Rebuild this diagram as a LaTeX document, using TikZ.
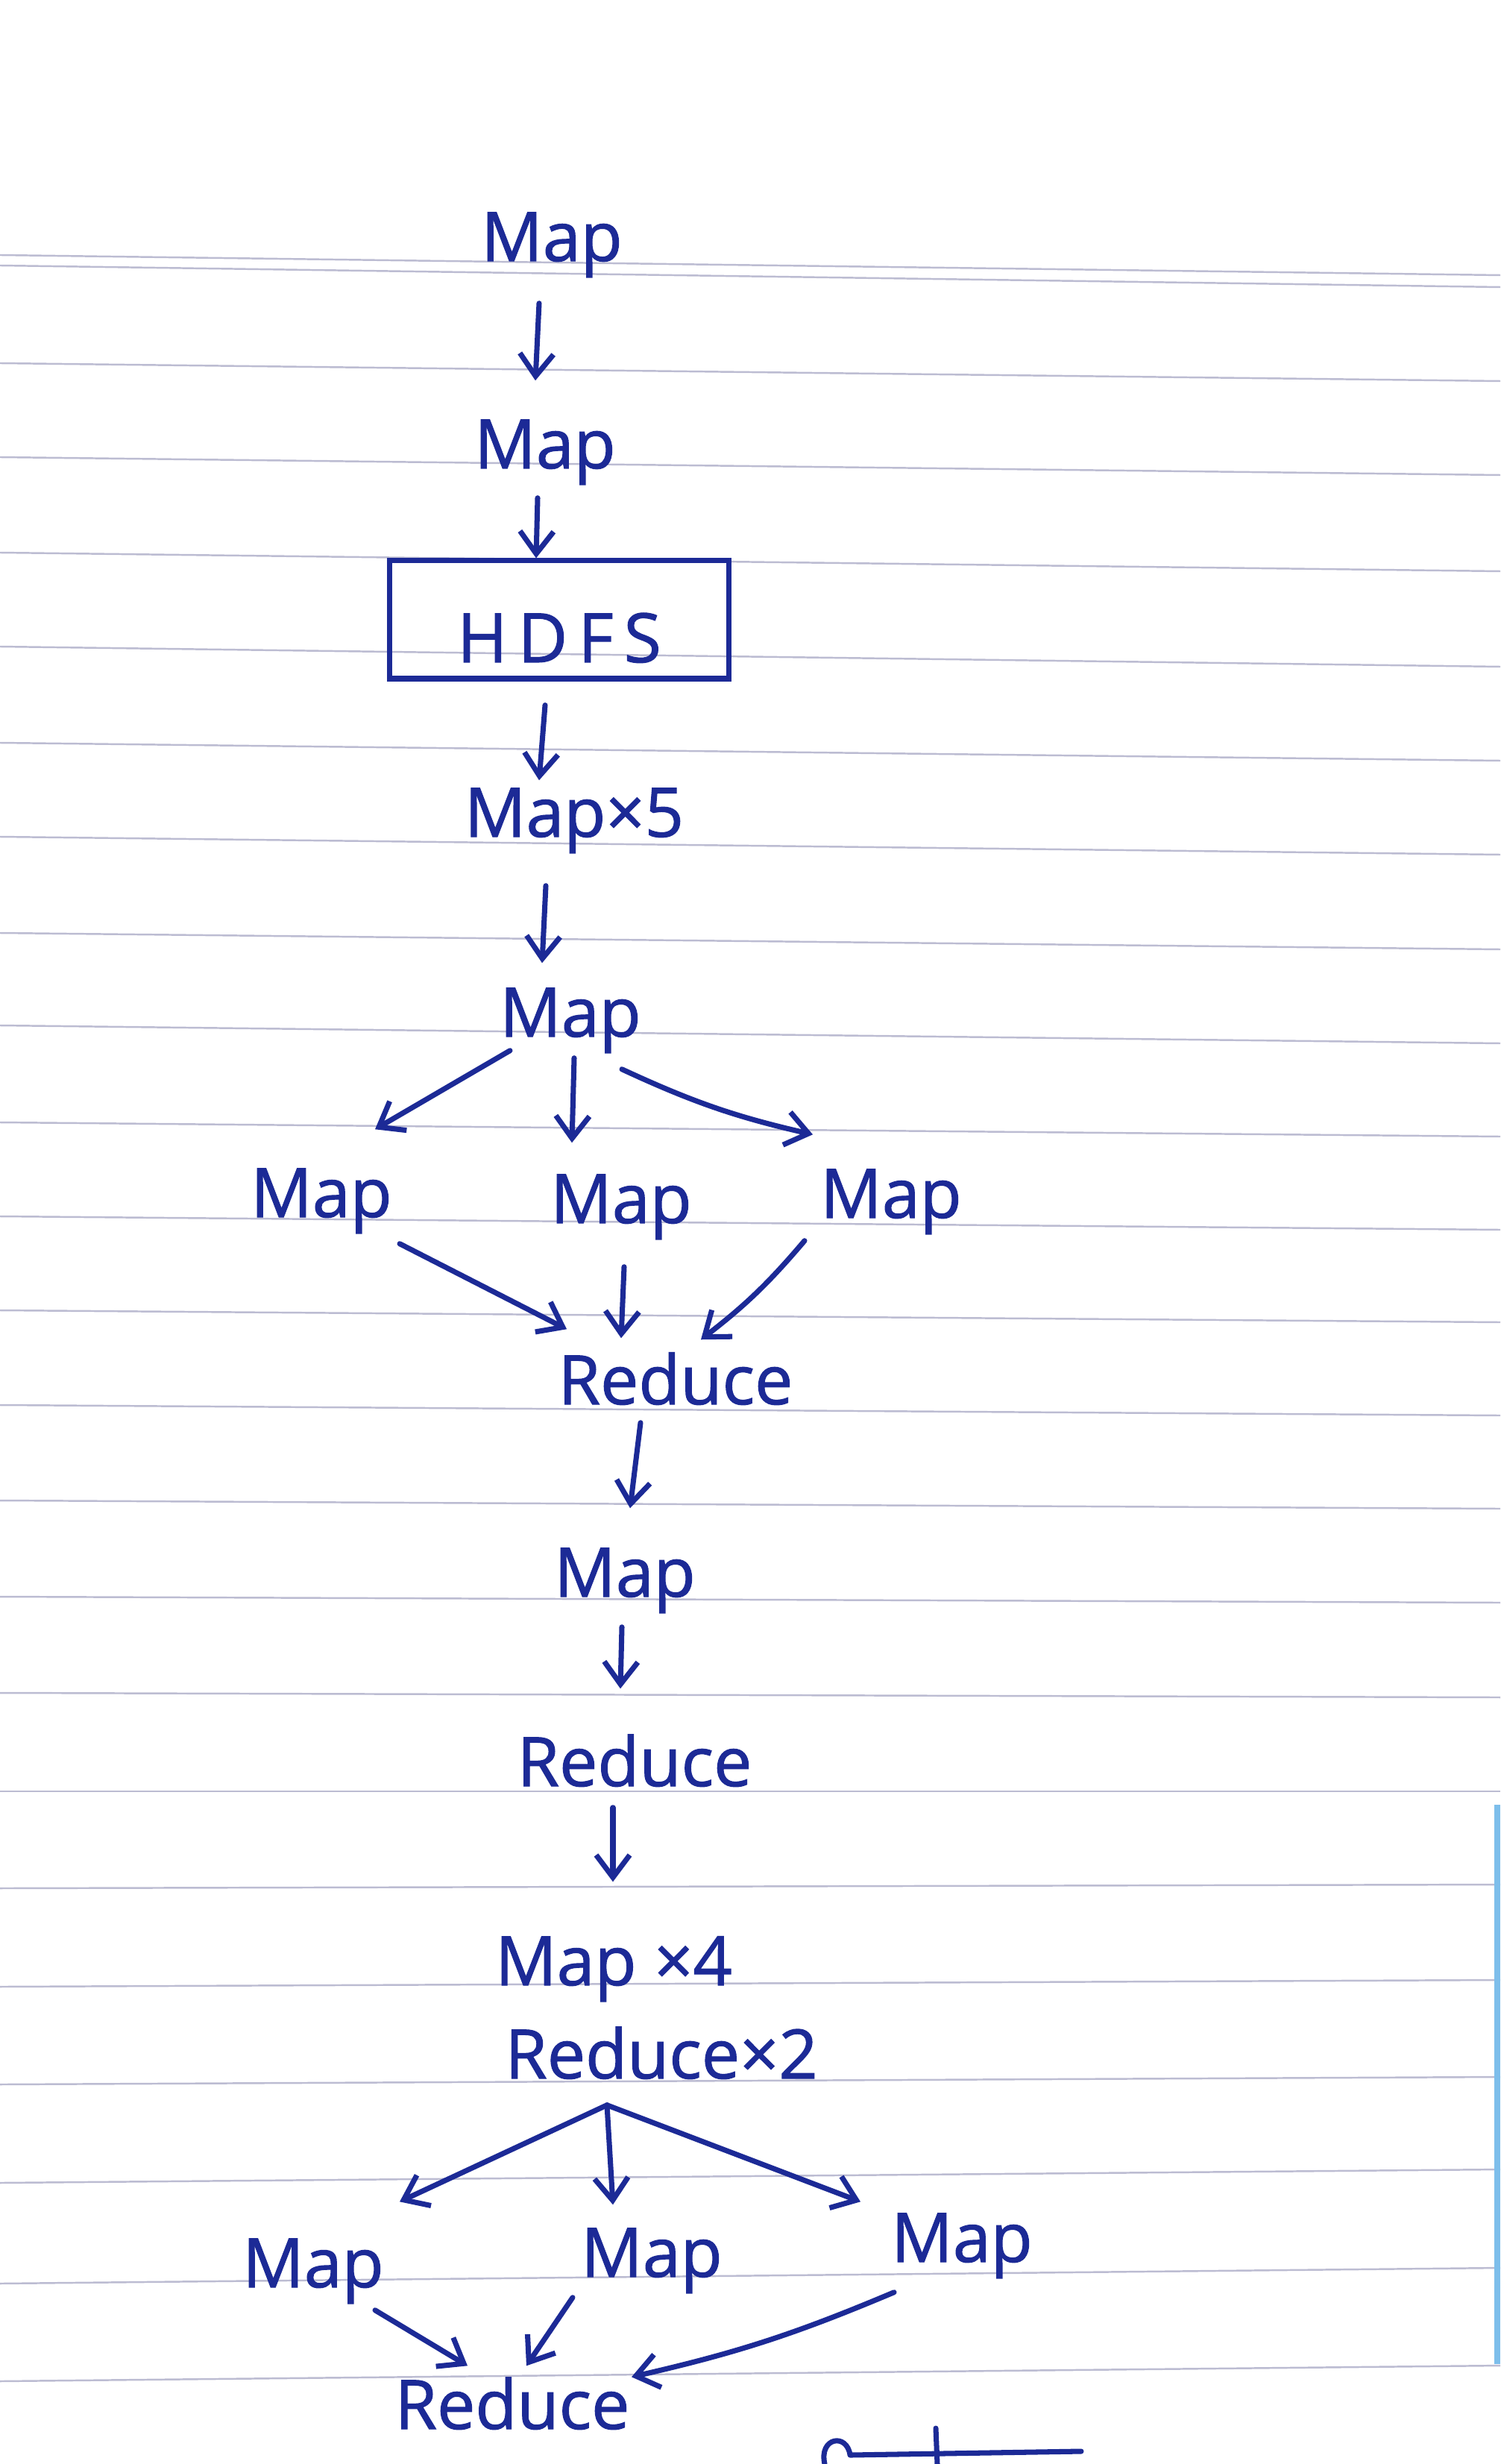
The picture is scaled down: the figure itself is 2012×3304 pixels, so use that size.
\documentclass[tikz,border=0pt]{standalone}
\usepackage{fontspec}
\setmainfont{Open Sans}
\newfontfamily\handfont{Open Sans}[FakeBold=1.2]
\usetikzlibrary{arrows.meta,calc}
\definecolor{ink}{RGB}{28,42,150}
\definecolor{rule}{RGB}{188,188,210}
\definecolor{tab}{RGB}{125,190,235}
\begin{document}
\begin{tikzpicture}[x=0.01cm,y=-0.01cm,
  word/.style={text=ink,font=\handfont\fontsize{26pt}{30pt}\selectfont,inner sep=0pt,
    text height=0.62cm,text depth=0.2cm,anchor=base},
  storebox/.style={word,draw=ink,line width=2pt,minimum width=4.55cm,
    text height=1.36cm,text depth=0.22cm},
  flow/.style={draw=ink,line width=2pt,line cap=round,
    -{Straight Barb[length=3mm,width=4.5mm]}},
  pen/.style={draw=ink,line width=2pt,line cap=round,line join=round},
  ruling/.style={draw=rule,line width=0.7pt}]

% page
\useasboundingbox (0,0) rectangle (2012,3304);
\fill[white] (0,0) rectangle (2012,3304);

% ruled lines of the notebook page
\foreach \l/\r in {342/369,356/385,487/511,613/637,741/766,867/894,996/1020,
  1122/1146,1251/1273,1375/1399,1505/1524,1631/1649,1757/1773,1884/1898,
  2012/2023,2141/2149,2270/2276,2402/2402,2532/2527,2664/2655,2795/2785,
  2927/2909,3062/3041,3193/3172}
  \draw[ruling] (0,\l) -- (2012,\r);

% edge of a blue cover at the right border
\fill[tab] (2004,2420) rectangle (2012,3170);

% nodes
\node[word] (m1) at (740,350) {Map};
\node[word] (m2) at (731,628) {Map};
\node[storebox] (hdfs) at (750,888) {H\kern4pt D\kern4pt F\kern4pt S};
\node[word] (m3) at (770,1122) {Map×5};
\node[word] (m4) at (765,1390) {Map};
\node[word] (m5l) at (431,1632) {Map};
\node[word] (m5m) at (833,1640) {Map};
\node[word] (m5r) at (1195,1633) {Map};
\node[word] (r1) at (906,1883) {Reduce};
\node[word] (m6) at (838,2141) {Map};
\node[word] (r2) at (851,2395) {Reduce};
\node[word] (m7) at (823,2662) {Map ×4};
\node[word] (r3) at (887,2787) {Reduce×2};
\node[word] (m8l) at (420,3067) {Map};
\node[word] (m8m) at (874,3053) {Map};
\node[word] (m8r) at (1290,3033) {Map};
\node[word] (r4) at (687,3257) {Reduce};

% connectors
\draw[flow] ($(m1.south)+(-17,36)$) -- ($(m2.north)+(-13,-55)$);
\draw[flow] ($(m2.south)+(-10,19)$) -- ($(hdfs.north)+(-31,0)$);
\draw[flow] ($(hdfs.south)+(-19,32)$) -- ($(m3.north)+(-47,-13)$);
\draw[flow] ($(m3.south)+(-38,45)$) -- ($(m4.north)+(-38,-36)$);

\draw[flow] ($(m4.south)+(-81,-2)$) -- ($(m5l.north)+(72,-55)$);
\draw[flow] ($(m4.south)+(5,8)$) -- ($(m5m.north)+(-66,-45)$);
\draw[flow] ($(m4.south)+(69,23)$) to[bend right=6] ($(m5r.north)+(-105,-49)$);

\draw[flow] ($(m5l.south)+(105,15)$) -- ($(r1.north)+(-146,-38)$);
\draw[flow] ($(m5m.south)+(4,38)$) -- ($(r1.north)+(-73,-26)$);
\draw[flow] ($(m5r.south)+(-116,10)$) to[bend left=6] ($(r1.north)+(34,-24)$);

\draw[flow] ($(r1.south)+(-47,4)$) -- ($(m6.north)+(7,-56)$);
\draw[flow] ($(m6.south)+(-4,20)$) -- ($(r2.north)+(-19,-68)$);
\draw[flow] ($(r2.south)+(-29,8)$) -- ($(m7.north)+(-1,-76)$);

\draw[flow] ($(r3.south)+(-73,15)$) -- ($(m8l.north)+(116,-52)$);
\draw[flow] ($(r3.south)+(-73,15)$) -- ($(m8m.north)+(-52,-34)$);
\draw[flow] ($(r3.south)+(-73,15)$) -- ($(m8r.north)+(-136,-18)$);

\draw[flow] ($(m8l.south)+(83,10)$) -- ($(r4.north)+(-60,-22)$);
\draw[flow] ($(m8m.south)+(-106,7)$) -- ($(r4.north)+(19,-22)$);
\draw[flow] ($(m8r.south)+(-91,20)$) to[bend left=5] ($(r4.north)+(160,-7)$);

% pen strokes cut by the bottom edge
\draw[pen] (1106,3304) .. controls (1098,3268) and (1136,3262) .. (1140,3292)
  -- (1450,3287);
\draw[pen] (1255,3256) -- (1257,3304);
\end{tikzpicture}
\end{document}
